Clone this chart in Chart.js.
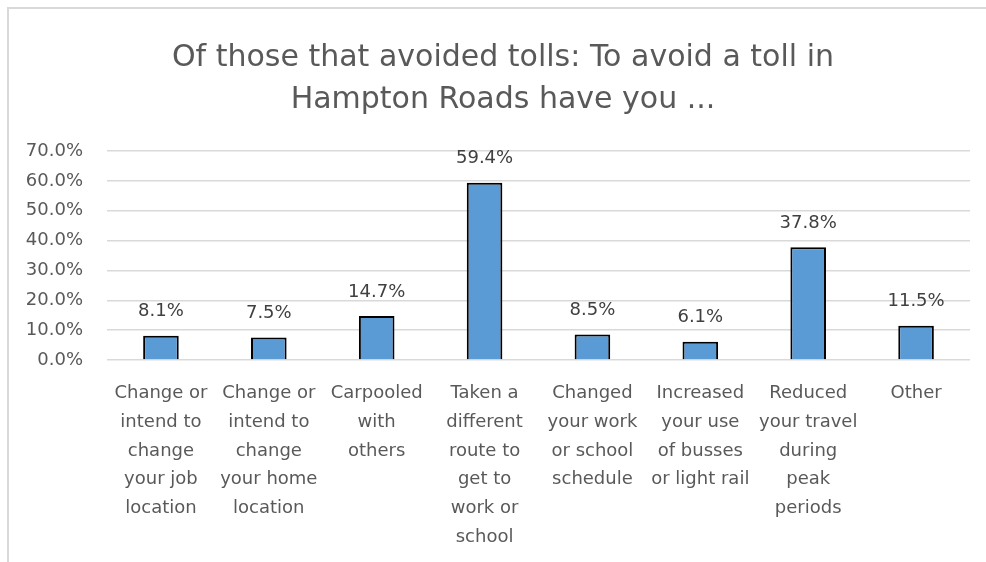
<!DOCTYPE html>
<html>
<head>
<meta charset="utf-8">
<script src="https://cdn.jsdelivr.net/npm/chart.js@4/dist/chart.umd.min.js"></script>
<style>
  html, body { margin: 0; padding: 0; background: #fff; }
  body { width: 986px; height: 562px; overflow: hidden; position: relative; }
  #frame {
    position: absolute; left: 7px; top: 7px; width: 990px; height: 570px;
    border-left: 2px solid #d9d9d9; border-top: 2px solid #d9d9d9;
  }
  #wrap { position: absolute; left: 0; top: 0; width: 986px; height: 562px; }
</style>
</head>
<body>
<div id="frame"></div>
<div id="wrap"><canvas id="chart"></canvas></div>
<script>
const titleLines = ['Of those that avoided tolls: To avoid a toll in', 'Hampton Roads have you ...'];

const categories = [
  ['Change or', 'intend to', 'change', 'your job', 'location'],
  ['Change or', 'intend to', 'change', 'your home', 'location'],
  ['Carpooled', 'with', 'others'],
  ['Taken a', 'different', 'route to', 'get to', 'work or', 'school'],
  ['Changed', 'your work', 'or school', 'schedule'],
  ['Increased', 'your use', 'of busses', 'or light rail'],
  ['Reduced', 'your travel', 'during', 'peak', 'periods'],
  ['Other']
];

const percentages = [8.1, 7.5, 14.7, 59.4, 8.5, 6.1, 37.8, 11.5];

const yMin = 0;
const yMax = 70;
const yStep = 10;

const fontFamily = '"DejaVu Sans"';

// title is centred on the chart frame, not on the plot, so draw it by hand
const frameTitle = {
  id: 'frameTitle',
  afterDraw(chart) {
    const ctx = chart.ctx;
    ctx.save();
    ctx.font = '30px ' + fontFamily;
    ctx.fillStyle = '#595959';
    ctx.textAlign = 'center';
    ctx.textBaseline = 'middle';
    titleLines.forEach((line, i) => ctx.fillText(line, 503, 58 + i * 42));
    ctx.restore();
  }
};

// draws the value above each bar
const barLabels = {
  id: 'barLabels',
  afterDatasetsDraw(chart) {
    const ctx = chart.ctx;
    const meta = chart.getDatasetMeta(0);
    ctx.save();
    ctx.font = '18px ' + fontFamily;
    ctx.fillStyle = '#404040';
    ctx.textAlign = 'center';
    ctx.textBaseline = 'middle';
    meta.data.forEach((bar, i) => {
      ctx.fillText(percentages[i].toFixed(1) + '%', bar.x, bar.y - 24);
    });
    ctx.restore();
  }
};

new Chart(document.getElementById('chart'), {
  type: 'bar',
  data: {
    labels: categories,
    datasets: [{
      data: percentages,
      backgroundColor: '#5b9bd5',
      borderColor: '#000000',
      borderWidth: 2,
      barPercentage: 0.33,
      categoryPercentage: 1
    }]
  },
  options: {
    responsive: true,
    maintainAspectRatio: false,
    animation: false,
    layout: { padding: { left: 0, right: 16, top: 151, bottom: 11 } },
    plugins: {
      legend: { display: false },
      tooltip: { enabled: false },
      title: { display: false }
    },
    scales: {
      y: {
        min: yMin,
        max: yMax,
        afterFit(scale) { scale.width = 107; },
        ticks: {
          stepSize: yStep,
          autoSkip: false,
          padding: 24,
          color: '#595959',
          font: { family: 'DejaVu Sans', size: 18 },
          callback: v => v.toFixed(1) + '%'
        },
        grid: { color: '#d9d9d9', lineWidth: 1.5, drawTicks: false },
        border: { display: false }
      },
      x: {
        afterFit(scale) { scale.height = 191; },
        ticks: {
          autoSkip: false,
          maxRotation: 0,
          padding: 11,
          color: '#595959',
          font: { family: 'DejaVu Sans', size: 18, lineHeight: 1.6 }
        },
        grid: { display: false },
        border: { display: false }
      }
    }
  },
  plugins: [barLabels, frameTitle]
});
</script>
</body>
</html>
